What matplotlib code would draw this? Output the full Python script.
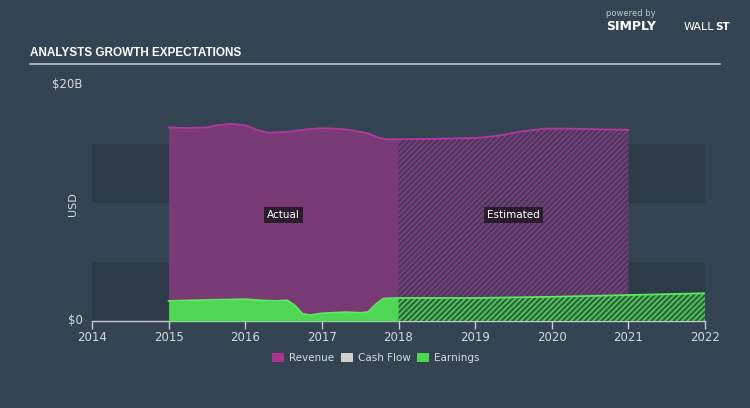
import numpy as np
import matplotlib.pyplot as plt

# values (USD billions)
rev_actual_x = [2015.0, 2015.25, 2015.5, 2015.65, 2015.8, 2016.0, 2016.15, 2016.3, 2016.6, 2016.8,
                2017.0, 2017.2, 2017.4, 2017.6, 2017.75, 2017.85, 2018.0]
rev_actual_y = [16.4, 16.35, 16.4, 16.6, 16.7, 16.6, 16.2, 15.95, 16.05, 16.25,
                16.35, 16.3, 16.15, 15.9, 15.5, 15.4, 15.4]
rev_est_x = [2018.0, 2018.5, 2019.0, 2019.3, 2019.6, 2019.9, 2020.2, 2020.6, 2021.0]
rev_est_y = [15.4, 15.45, 15.5, 15.7, 16.05, 16.3, 16.3, 16.25, 16.2]

earn_actual_x = [2015.0, 2015.5, 2016.0, 2016.2, 2016.4, 2016.55, 2016.65, 2016.75, 2016.85,
                 2017.0, 2017.3, 2017.5, 2017.6, 2017.7, 2017.8, 2018.0]
earn_actual_y = [1.7, 1.78, 1.85, 1.75, 1.7, 1.75, 1.3, 0.6, 0.5,
                 0.65, 0.75, 0.7, 0.75, 1.4, 1.9, 1.95]
earn_est_x = [2018.0, 2019.0, 2020.0, 2021.0, 2022.0]
earn_est_y = [1.95, 1.95, 2.05, 2.2, 2.35]

years = [2014, 2015, 2016, 2017, 2018, 2019, 2020, 2021, 2022]
bands = [(0, 5), (10, 15)]

bg = '#344453'
band_col = '#2e3b48'
rev_col = '#7a3a75'
rev_line = '#b23a9c'
earn_col = '#4fd655'
earn_line = '#5ce860'
axis_col = '#c8ccd2'
txt_col = '#d6dadf'

plt.rcParams['hatch.linewidth'] = 1.4

fig = plt.figure(figsize=(7.5, 4.08), dpi=100)
fig.patch.set_facecolor(bg)
ax = fig.add_axes([92/750, 1-321/408, (705-92)/750, (321-85)/408])
ax.set_facecolor(bg)
ax.set_xlim(2014, 2022)
ax.set_ylim(0, 20)

for lo, hi in bands:
    ax.axhspan(lo, hi, color=band_col, lw=0, zorder=0)

# revenue
ax.fill_between(rev_actual_x, rev_actual_y, color=rev_col, lw=0, zorder=1)
ax.fill_between(rev_est_x, rev_est_y, facecolor='#84397f', edgecolor='#3c3e58',
                hatch='//////', lw=0, zorder=1)
ax.plot(rev_actual_x + rev_est_x[1:], rev_actual_y + rev_est_y[1:], color=rev_line, lw=1.3, zorder=2)

# earnings
ax.fill_between(earn_actual_x, earn_actual_y, color=earn_col, lw=0, zorder=3)
ax.fill_between(earn_est_x, earn_est_y, facecolor='#4cc652', edgecolor='#2f5a42',
                hatch='//////', lw=0, zorder=3)
ax.plot(earn_actual_x + earn_est_x[1:], earn_actual_y + earn_est_y[1:], color=earn_line, lw=1.3, zorder=4)

for s in ['top', 'right', 'left']:
    ax.spines[s].set_visible(False)
ax.spines['bottom'].set_color(axis_col)
ax.spines['bottom'].set_linewidth(1)
ax.set_xticks(years)
ax.set_xticklabels([str(y) for y in years])
ax.tick_params(axis='x', colors=axis_col, labelcolor=txt_col, labelsize=8.5, length=6, width=1, pad=1)
ax.set_yticks([])

# y labels
ax.text(-0.015, 0, '$0', transform=ax.get_yaxis_transform(), ha='right', va='center', color=txt_col, fontsize=8.5)
ax.text(-0.015, 20, '$20B', transform=ax.get_yaxis_transform(), ha='right', va='center', color=txt_col, fontsize=8.5)
fig.text(73/750, 1-204/408, 'USD', rotation=90, ha='center', va='center', color=txt_col, fontsize=8)

# annotation boxes
box = dict(boxstyle='square,pad=0.3', facecolor='#2a1b2d', edgecolor='none')
ax.text(2016.5, 9.0, 'Actual', ha='center', va='center', color='white', fontsize=7.5, bbox=box, zorder=5)
ax.text(2019.5, 9.0, 'Estimated', ha='center', va='center', color='white', fontsize=7.5, bbox=box, zorder=5)

# title and rule
fig.text(30/750, 1-53/408, 'ANALYSTS GROWTH EXPECTATIONS', ha='left', va='center', color='white',
         fontsize=8.5, fontweight='bold', family=['Liberation Sans Narrow', 'Liberation Sans'])
fig.add_artist(plt.Line2D([30/750, 720/750], [1-64/408, 1-64/408], color='#b9c0c8', lw=1.2))

# logo text
fig.text(606/750, 1-14/408, 'powered by', ha='left', va='center', color='#c0c6cc', fontsize=6)
fig.text(606/750, 1-27/408, 'SIMPLY', ha='left', va='center', color='white', fontsize=9, fontweight='bold')
fig.text(684/750, 1-27/408, 'WALL', ha='left', va='center', color='white', fontsize=8)
fig.text(715/750, 1-27/408, 'ST', ha='left', va='center', color='white', fontsize=7.5, fontweight='bold')

# legend
items = [('Revenue', '#a8358f'), ('Cash Flow', '#d0d0d0'), ('Earnings', '#4cd650')]
xs = [272, 341, 417]
for (label, c), x in zip(items, xs):
    fig.patches.append(plt.Rectangle((x/750, 1-362/408), 12/750, 9/408, transform=fig.transFigure,
                                     facecolor=c, edgecolor='none'))
    fig.text((x + 17)/750, 1-358/408, label, ha='left', va='center', color=txt_col, fontsize=7.5)

fig.savefig('out.png', dpi=100, facecolor=bg)
